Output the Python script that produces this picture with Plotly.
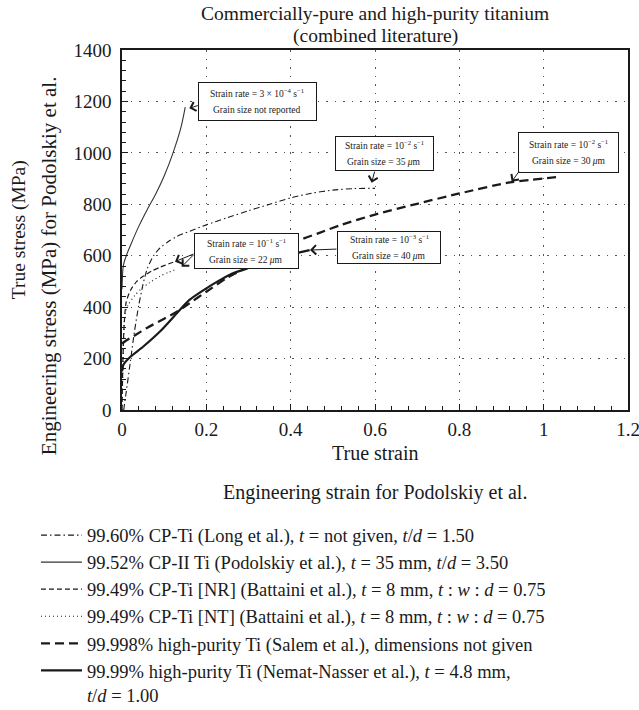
import plotly.graph_objects as go

# ---- stress–strain curves (strain, stress in MPa) ----
long_strain = [0.004, 0.01, 0.02, 0.03, 0.04, 0.05, 0.06, 0.075, 0.09, 0.11, 0.13,
               0.16, 0.2, 0.25, 0.3, 0.35, 0.4, 0.45, 0.5, 0.55, 0.6]
long_stress = [0, 70, 190, 310, 410, 490, 550, 600, 630, 655, 675,
               695, 720, 748, 775, 800, 825, 843, 855, 861, 862]

podolskiy_strain = [0, 0.003, 0.01, 0.02, 0.04, 0.06, 0.08, 0.1, 0.12, 0.14, 0.15]
podolskiy_stress = [470, 560, 600, 640, 715, 780, 840, 910, 995, 1100, 1178]

battaini_nr_strain = [0, 0.002, 0.005, 0.01, 0.02, 0.035, 0.05, 0.07, 0.09, 0.11, 0.122]
battaini_nr_stress = [0, 180, 330, 420, 465, 500, 520, 540, 555, 568, 575]

battaini_nt_strain = [0, 0.002, 0.004, 0.008, 0.015, 0.03, 0.045, 0.065, 0.09, 0.11, 0.13]
battaini_nt_stress = [0, 150, 290, 380, 410, 445, 470, 495, 520, 535, 548]

salem_strain = [0, 0.01, 0.03, 0.06, 0.1, 0.13, 0.16, 0.2, 0.25, 0.3, 0.35, 0.42,
                0.47, 0.52, 0.6, 0.7, 0.8, 0.92, 1.04]
salem_stress = [258, 270, 290, 320, 355, 382, 415, 460, 515, 558, 605, 660,
                690, 720, 760, 802, 842, 885, 907]

nemat_strain = [0, 0.003, 0.02, 0.05, 0.09, 0.13, 0.16, 0.2, 0.23, 0.26, 0.31,
                0.36, 0.4, 0.445]
nemat_stress = [150, 175, 207, 246, 305, 376, 428, 473, 503, 530, 557,
                585, 605, 622]

series_names = [
    "99.60% CP-Ti (Long et al.), <i>t</i> = not given, <i>t</i>/<i>d</i> = 1.50",
    "99.52% CP-II Ti (Podolskiy et al.), <i>t</i> = 35 mm, <i>t</i>/<i>d</i> = 3.50",
    "99.49% CP-Ti [NR] (Battaini et al.), <i>t</i> = 8 mm, <i>t</i> : <i>w</i> : <i>d</i> = 0.75",
    "99.49% CP-Ti [NT] (Battaini et al.), <i>t</i> = 8 mm, <i>t</i> : <i>w</i> : <i>d</i> = 0.75",
    "99.998% high-purity Ti (Salem et al.), dimensions not given",
    "99.99% high-purity Ti (Nemat-Nasser et al.), <i>t</i> = 4.8 mm,<br><i>t</i>/<i>d</i> = 1.00",
]

x_ticks = [0, 0.2, 0.4, 0.6, 0.8, 1.0, 1.2]
x_tick_labels = ["0", "0.2", "0.4", "0.6", "0.8", "1", "1.2"]
y_ticks = [0, 200, 400, 600, 800, 1000, 1200, 1400]

# ---- test-condition callouts: text, box centre (strain, stress), box size px ----
callout_text = [
    ["Strain rate = 3 × 10<sup>−4</sup> s<sup>−1</sup>", "Grain size not reported"],
    ["Strain rate = 10<sup>−2</sup> s<sup>−1</sup>", "Grain size = 35 <i>μ</i>m"],
    ["Strain rate = 10<sup>−2</sup> s<sup>−1</sup>", "Grain size = 30 <i>μ</i>m"],
    ["Strain rate = 10<sup>−1</sup> s<sup>−1</sup>", "Grain size = 22 <i>μ</i>m"],
    ["Strain rate = 10<sup>−3</sup> s<sup>−1</sup>", "Grain size = 40 <i>μ</i>m"],
]
callout_center = [(0.3213, 1200), (0.6225, 997), (1.0589, 1001), (0.2952, 618), (0.6332, 632)]
callout_size = [(117, 37), (97, 33), (99, 39), (103, 34), (102, 31)]

# arrows: (tail strain, tail stress, tip strain, tip stress)
callout_arrows = [
    (0.1833, 1186, 0.1597, 1173),
    (0.600, 933, 0.592, 884),
    (0.944, 933, 0.924, 888),
    (0.1731, 609, 0.1257, 577),
    (0.1731, 609, 0.1415, 557),
    (0.5122, 626, 0.4458, 622),
]

title_lines = ["Commercially-pure and high-purity titanium", "(combined literature)"]

SERIF = "Liberation Serif, Times New Roman, serif"
INK = "#1a1a1a"

fig = go.Figure()

styles = [
    dict(color=INK, width=1.1, dash="6px,3px,1.5px,3px"),
    dict(color="#333333", width=1.1),
    dict(color=INK, width=1.2, dash="5px,3px"),
    dict(color=INK, width=1.1, dash="1px,3px"),
    dict(color=INK, width=2.3, dash="9px,5px"),
    dict(color=INK, width=2.2),
]
curves = [
    (long_strain, long_stress),
    (podolskiy_strain, podolskiy_stress),
    (battaini_nr_strain, battaini_nr_stress),
    (battaini_nt_strain, battaini_nt_stress),
    (salem_strain, salem_stress),
    (nemat_strain, nemat_stress),
]
for (xs, ys), name, st in zip(curves, series_names, styles):
    fig.add_trace(go.Scatter(x=xs, y=ys, mode="lines", name=name, line=st,
                             line_shape="spline", line_smoothing=0.7, hoverinfo="skip"))

# callout boxes with two text lines each
for lines, (xc, yc), (w, h) in zip(callout_text, callout_center, callout_size):
    fig.add_annotation(x=xc, y=yc, xref="x", yref="y", text=" ", showarrow=False,
                       width=w, height=h, borderpad=0, bordercolor=INK,
                       borderwidth=1, bgcolor="white")
    for ln, shift in zip(lines, (8.5, -8.5)):
        fig.add_annotation(x=xc, y=yc, xref="x", yref="y", text=ln, showarrow=False,
                           yshift=shift, font=dict(family=SERIF, size=9.5, color=INK))

for tx, ty, hx, hy in callout_arrows:
    fig.add_annotation(x=hx, y=hy, ax=tx, ay=ty, xref="x", yref="y", axref="x", ayref="y",
                       text="", showarrow=True, arrowhead=4, arrowsize=1.8,
                       arrowwidth=1, arrowcolor=INK, standoff=0, startstandoff=0)

# chart title (two centred lines above the plot)
for ln, yp in zip(title_lines, (1.1, 1.039)):
    fig.add_annotation(x=0.5, y=yp, xref="paper", yref="paper", text=ln, showarrow=False,
                       xanchor="center", yanchor="middle",
                       font=dict(family=SERIF, size=19.5, color=INK))

# axis titles
fig.add_annotation(x=0.5, y=-0.119, xref="paper", yref="paper", text="True strain",
                   xanchor="center", yanchor="middle", showarrow=False,
                   font=dict(family=SERIF, size=20, color=INK))
fig.add_annotation(x=0.5, y=-0.228, xref="paper", yref="paper",
                   text="Engineering strain for Podolskiy et al.",
                   xanchor="center", yanchor="middle", showarrow=False,
                   font=dict(family=SERIF, size=20, color=INK))
fig.add_annotation(x=-0.203, y=0.5, xref="paper", yref="paper", text="True stress (MPa)",
                   textangle=-90, xanchor="center", yanchor="middle", showarrow=False,
                   font=dict(family=SERIF, size=19.5, color=INK))
fig.add_annotation(x=-0.144, y=0.40, xref="paper", yref="paper",
                   text="Engineering stress (MPa) for Podolskiy et al.",
                   textangle=-90, xanchor="center", yanchor="middle", showarrow=False,
                   font=dict(family=SERIF, size=21, color=INK))

grid = dict(showgrid=True, gridcolor="#555555", gridwidth=1, griddash="1.5px,7px")
fig.update_xaxes(range=[0, 1.2], tickmode="array", tickvals=x_ticks, ticktext=x_tick_labels,
                 ticks="inside", ticklen=6, ticklabeloverflow="allow",
                 tickcolor=INK, showline=True, linecolor=INK, linewidth=1.5, mirror=True,
                 zeroline=False, tickfont=dict(family=SERIF, size=19, color=INK),
                 ticklabelstandoff=1,
                 minor=dict(tickmode="linear", tick0=0, dtick=0.04, ticks="inside", ticklen=4,
                            tickcolor=INK, showgrid=False),
                 **grid)
fig.update_yaxes(range=[0, 1400], tickmode="array", tickvals=y_ticks,
                 ticks="inside", ticklen=6,
                 tickcolor=INK, showline=True, linecolor=INK, linewidth=1.5, mirror=True,
                 zeroline=False, tickfont=dict(family=SERIF, size=19, color=INK),
                 ticklabelstandoff=5,
                 minor=dict(tickmode="linear", tick0=0, dtick=40, ticks="inside", ticklen=4,
                            tickcolor=INK, showgrid=False),
                 **grid)

fig.update_layout(
    width=639, height=710,
    margin=dict(l=122, r=11, t=50, b=300, autoexpand=False),
    paper_bgcolor="white", plot_bgcolor="white",
    showlegend=True,
    legend=dict(x=-0.17, y=-0.296, xref="paper", yref="paper", xanchor="left", yanchor="top",
                font=dict(family=SERIF, size=18.5, color=INK), itemwidth=41,
                tracegroupgap=0, valign="top", bgcolor="rgba(0,0,0,0)"),
)

fig.write_html("out.html")
